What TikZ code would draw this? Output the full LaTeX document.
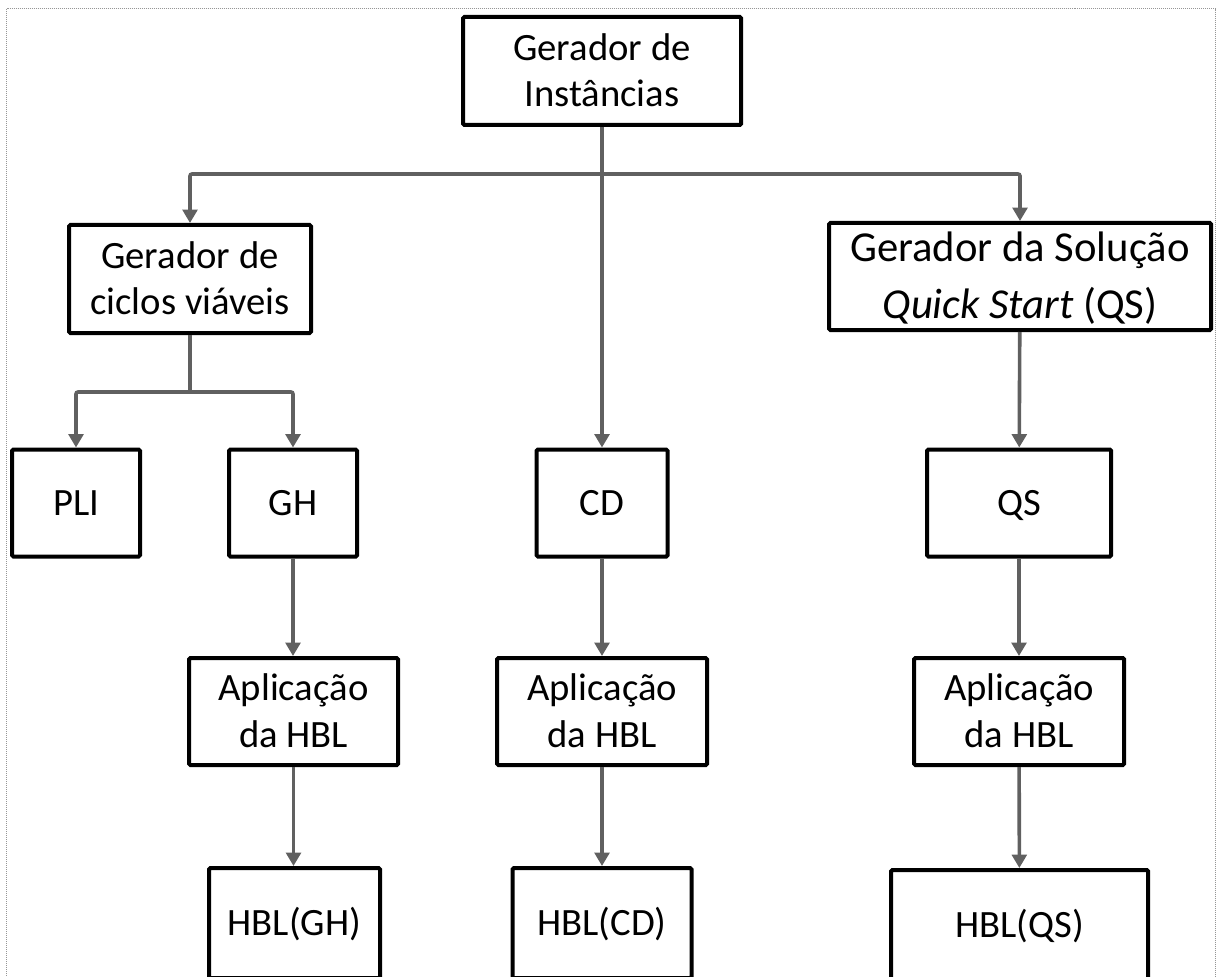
\documentclass[tikz,border=0pt]{standalone}
\usepackage{fontspec}
\setmainfont{Carlito}
\usetikzlibrary{arrows.meta}
\definecolor{linkgray}{RGB}{96,96,96}
\definecolor{framegray}{RGB}{150,150,150}
\begin{document}
\begin{tikzpicture}[x=0.75pt,y=-0.75pt,
  blk/.style={draw=black,line width=3pt,fill=white,rounded corners=1pt,
    align=center,inner sep=0pt,font=\fontsize{29}{35}\selectfont,
    text height=18.7pt,text depth=0pt},
  twoline/.style={blk,text height=53.7pt},
  bigblk/.style={blk,font=\fontsize{32}{43}\selectfont,text height=63.6pt},
  sz/.style 2 args={minimum width=#1*0.75pt,minimum height=#2*0.75pt},
  conn/.style={draw=linkgray,line width=2.7pt,rounded corners=1.5pt},
  arr/.style={conn,-{Triangle[length=10pt,width=11pt]}},
  frame/.style={draw=framegray,line width=0.75pt,dash pattern=on 0.75pt off 0.75pt}
]
\useasboundingbox (0,0) rectangle (1218,977);
\clip (0,0) rectangle (1218,977);

% outer dotted frame
\draw[frame] (6.5,9) rectangle (1215,1000);

% top level
\node[twoline,sz={278}{108}] (GI) at (602,71) {Gerador de\\Instâncias};

% second level
\node[twoline,sz={242}{108}] (GC) at (190,279) {Gerador de\\ciclos viáveis};
\node[bigblk,sz={382}{107}] (GS) at (1020,276.5) {Gerador da Solução\\\textit{Quick Start} (QS)};

% third level
\node[blk,sz={128}{107}] (PLI) at (76,503) {PLI};
\node[blk,sz={128}{107}] (GH) at (293,503) {GH};
\node[blk,sz={131}{107}] (CD) at (602,503) {CD};
\node[blk,sz={184}{107}] (QS) at (1019,503) {QS};

% heuristic application
\node[twoline,sz={209}{107}] (A1) at (293.5,711.5) {Aplicação\\da HBL};
\node[twoline,sz={210}{107}] (A2) at (602,711.5) {Aplicação\\da HBL};
\node[twoline,sz={210}{107}] (A3) at (1019,711.5) {Aplicação\\da HBL};

% results
\node[blk,sz={171}{110}] (H1) at (294.5,923) {HBL(GH)};
\node[blk,sz={179}{110}] (H2) at (602,923) {HBL(CD)};
\node[blk,sz={257}{110}] (H3) at (1019.5,925) {HBL(QS)};

% junctions
\coordinate (jA) at (602,174);
\coordinate (jB) at (190,392);

% connectors
\draw[arr] (GI) -- (CD);
\draw[arr] (jA) -| (GC.north);
\draw[arr] (jA) -| (GS.north);
\draw[conn] (GC.south) -- (jB);
\draw[arr] (jB) -| (PLI.north);
\draw[arr] (jB) -| (GH.north);
\draw[arr] (GS) -- (QS);
\draw[arr] (GH.south) -- (GH.south |- A1.north);
\draw[arr] (A1.south) -- (A1.south |- H1.north);
\draw[arr] (CD) -- (A2);
\draw[arr] (A2) -- (H2);
\draw[arr] (QS) -- (A3);
\draw[arr] (A3) -- (H3);
\end{tikzpicture}
\end{document}
